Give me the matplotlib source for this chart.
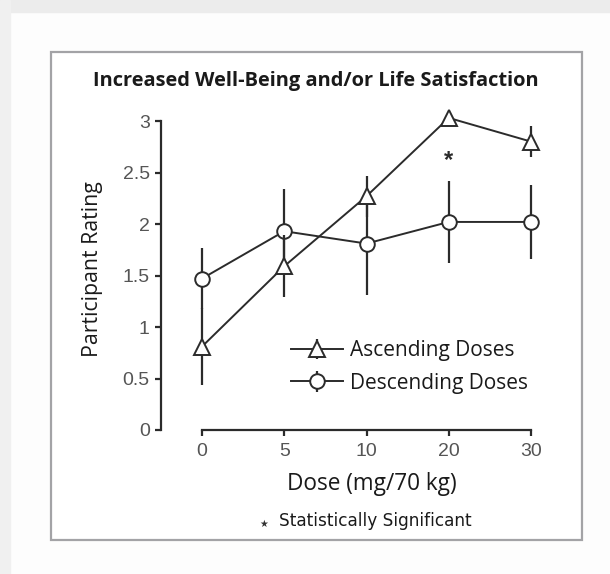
import matplotlib
matplotlib.use("Agg")
import matplotlib.pyplot as plt
from matplotlib.patches import Rectangle

doses = ["0", "5", "10", "20", "30"]
ascending = [0.81, 1.59, 2.27, 3.03, 2.80]
ascending_err = [0.37, 0.30, 0.20, 0.0, 0.15]
descending = [1.47, 1.93, 1.81, 2.02, 2.02]
descending_err = [0.30, 0.41, 0.50, 0.40, 0.36]
significant = [3]          # index of the dose marked with a star
y_ticks = [0, 0.5, 1, 1.5, 2, 2.5, 3]
y_ticklabels = ["0", "0.5", "1", "1.5", "2", "2.5", "3"]

W, H = 610, 574
DPI = 100
ink = "#2b2b2b"
label_font = ["Open Sans", "DejaVu Sans"]
tick_font = ["Liberation Sans", "DejaVu Sans"]

fig = plt.figure(figsize=(W / DPI, H / DPI), dpi=DPI, facecolor="#fdfdfd")

# page shadow at the top / left edge
fig.patches.append(Rectangle((0, 1 - 12 / H), 1, 12 / H, transform=fig.transFigure,
                             color="#ececec", zorder=0))
fig.patches.append(Rectangle((0, 0), 10 / W, 1, transform=fig.transFigure,
                             color="#f0f0f0", zorder=0))
# grey frame round the figure panel
fig.patches.append(Rectangle((51 / W, 1 - 540 / H), (582 - 51) / W, (540 - 52) / H,
                             transform=fig.transFigure, fill=True, facecolor="white",
                             edgecolor="#a3a3a6", linewidth=1.6, zorder=0))

# axes placed so that x index 0..4 spans 202..531 px and y 0..3 spans 430..121 px
xstep = (531 - 202) / 4
ystep = (430 - 121) / 3
x0, x1 = -0.5, 4.3
y0, y1 = -0.06, 3.15
left_px = 202 + x0 * xstep
bottom_px = 430 - y0 * ystep
ax = fig.add_axes([left_px / W, 1 - bottom_px / H,
                   (x1 - x0) * xstep / W, (y1 - y0) * ystep / H])
ax.set_zorder(2)
ax.set_xlim(x0, x1)
ax.set_ylim(y0, y1)
ax.patch.set_alpha(0)

xs = list(range(len(doses)))
ax.errorbar(xs, descending, yerr=descending_err, color=ink, lw=1.4, elinewidth=1.6,
            capsize=0, marker="o", ms=10.5, mfc="white", mec=ink, mew=1.4,
            label="Descending Doses", zorder=3, clip_on=False)
ax.errorbar(xs, ascending, yerr=ascending_err, color=ink, lw=1.4, elinewidth=1.6,
            capsize=0, marker="^", ms=11.5, mfc="white", mec=ink, mew=1.4,
            label="Ascending Doses", zorder=4, clip_on=False)

for i in significant:
    ax.text(i, 2.62, "*", ha="center", va="center", fontsize=17, fontweight="bold",
            color=ink, family=tick_font)

for side in ["top", "right"]:
    ax.spines[side].set_visible(False)
ax.spines["left"].set_bounds(0, 3)
ax.spines["left"].set_position(("data", x0))
ax.spines["bottom"].set_bounds(0, 4)
ax.spines["bottom"].set_position(("data", 0))
for side in ["left", "bottom"]:
    ax.spines[side].set_color(ink)
    ax.spines[side].set_linewidth(1.6)

ax.set_xticks(xs)
ax.set_xticklabels(doses)
ax.set_yticks(y_ticks)
ax.set_yticklabels(y_ticklabels)
ax.tick_params(direction="out", length=4, width=1.6, color=ink, labelsize=14,
               labelcolor="#555555")
ax.tick_params(axis="y", pad=4)
ax.tick_params(axis="x", pad=5)
for lab in ax.get_xticklabels() + ax.get_yticklabels():
    lab.set_family(tick_font)

handles, labels = ax.get_legend_handles_labels()
leg = ax.legend(handles[::-1], labels[::-1], loc="center left",
                bbox_to_anchor=(291 / W, 1 - 367 / H), bbox_transform=fig.transFigure,
                frameon=False, borderpad=0, borderaxespad=0, handlelength=2.5,
                handletextpad=0.33, labelspacing=0.55,
                prop={"family": label_font, "size": 15})
for t in leg.get_texts():
    t.set_color("#1a1a1a")

fig.text(316 / W, 1 - 81 / H, "Increased Well-Being and/or Life Satisfaction",
         ha="center", va="center", fontsize=14.4, fontweight="bold",
         family=label_font, color="#1a1a1a")
fig.text(92 / W, 1 - 269 / H, "Participant Rating", rotation=90, ha="center",
         va="center", fontsize=15.3, family=label_font, color="#1a1a1a")
fig.text(372 / W, 1 - 484 / H, "Dose (mg/70 kg)", ha="center", va="center",
         fontsize=16.3, family=label_font, color="#1a1a1a")
fig.text(264 / W, 1 - 524 / H, "\u2605", ha="center", va="center", fontsize=7,
         family=["DejaVu Sans"], color="#333333")
fig.text(279 / W, 1 - 521 / H, "Statistically Significant", ha="left", va="center",
         fontsize=12.2, family=["DejaVu Sans"], color="#1a1a1a")

fig.savefig("out.png", dpi=DPI, facecolor=fig.get_facecolor())
